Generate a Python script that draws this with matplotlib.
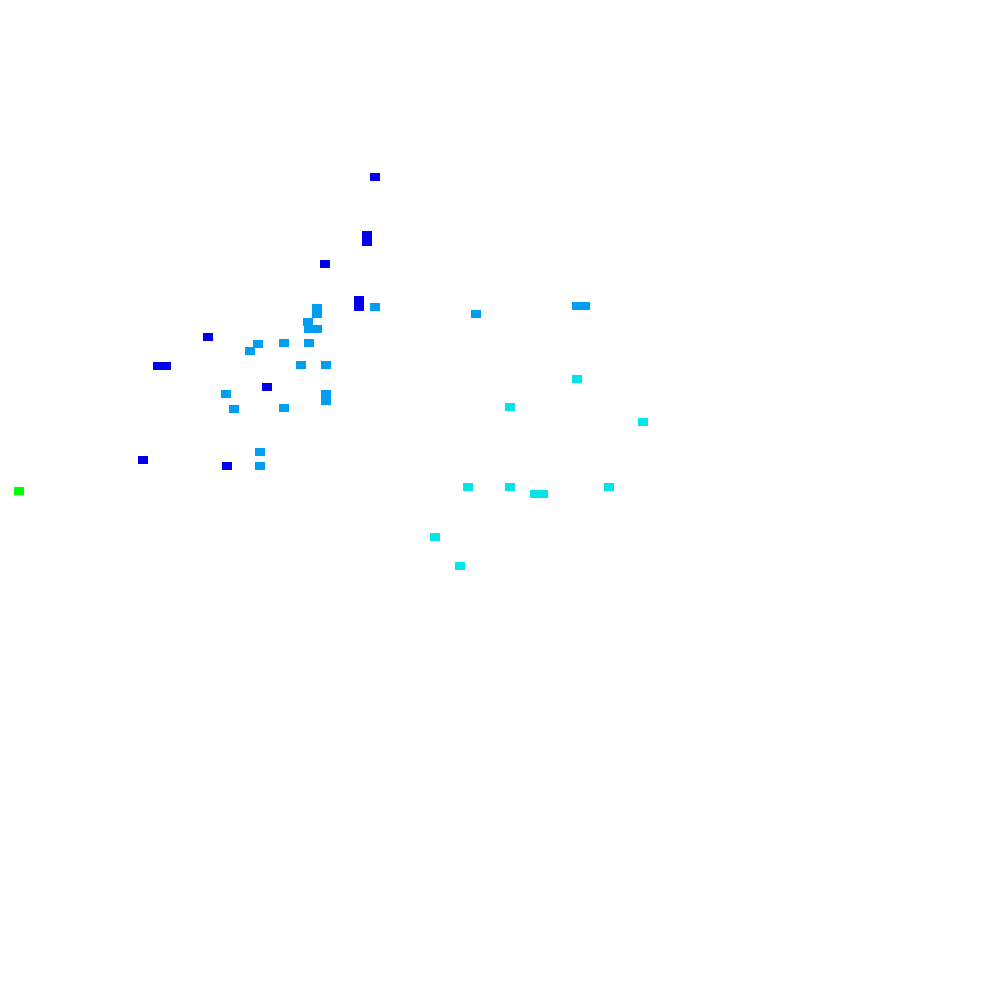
import matplotlib
matplotlib.use('Agg')
import matplotlib.pyplot as plt

dark_x = [375, 367, 367, 325, 359, 359, 208, 158, 166, 267, 143, 227]
dark_y = [177, 235, 242, 264, 300, 307, 337, 366, 366, 387, 460, 466]

light_x = [375, 476, 577, 585, 317, 317, 308, 309, 317, 258, 284, 309, 250,
           301, 326, 226, 234, 284, 326, 326, 260, 260]
light_y = [307, 314, 306, 306, 308, 314, 322, 329, 329, 344, 343, 343, 351,
           365, 365, 394, 409, 408, 394, 401, 452, 466]

cyan_x = [577, 510, 643, 468, 510, 535, 543, 609, 435, 460]
cyan_y = [379, 407, 422, 487, 487, 494, 494, 487, 537, 566]

green_x = [19]
green_y = [491]

groups = [
    (dark_x, dark_y, '#0000EE'),
    (light_x, light_y, '#009EF0'),
    (cyan_x, cyan_y, '#00E6E6'),
    (green_x, green_y, '#00FF00'),
]

# marcador retangular 8x7
rect = [(-4, -3.5), (4, -3.5), (4, 3.5), (-4, 3.5), (-4, -3.5)]

fig = plt.figure(figsize=(10, 10), dpi=100)
ax = fig.add_axes([0, 0, 1, 1])
for xs, ys, color in groups:
    ax.scatter(xs, ys, marker=rect, s=44, c=color, linewidths=0,
               antialiased=False)

ax.set_xlim(0, 1000)
ax.set_ylim(1000, 0)
ax.axis('off')

plt.savefig('out.png', dpi=100, facecolor='white')
